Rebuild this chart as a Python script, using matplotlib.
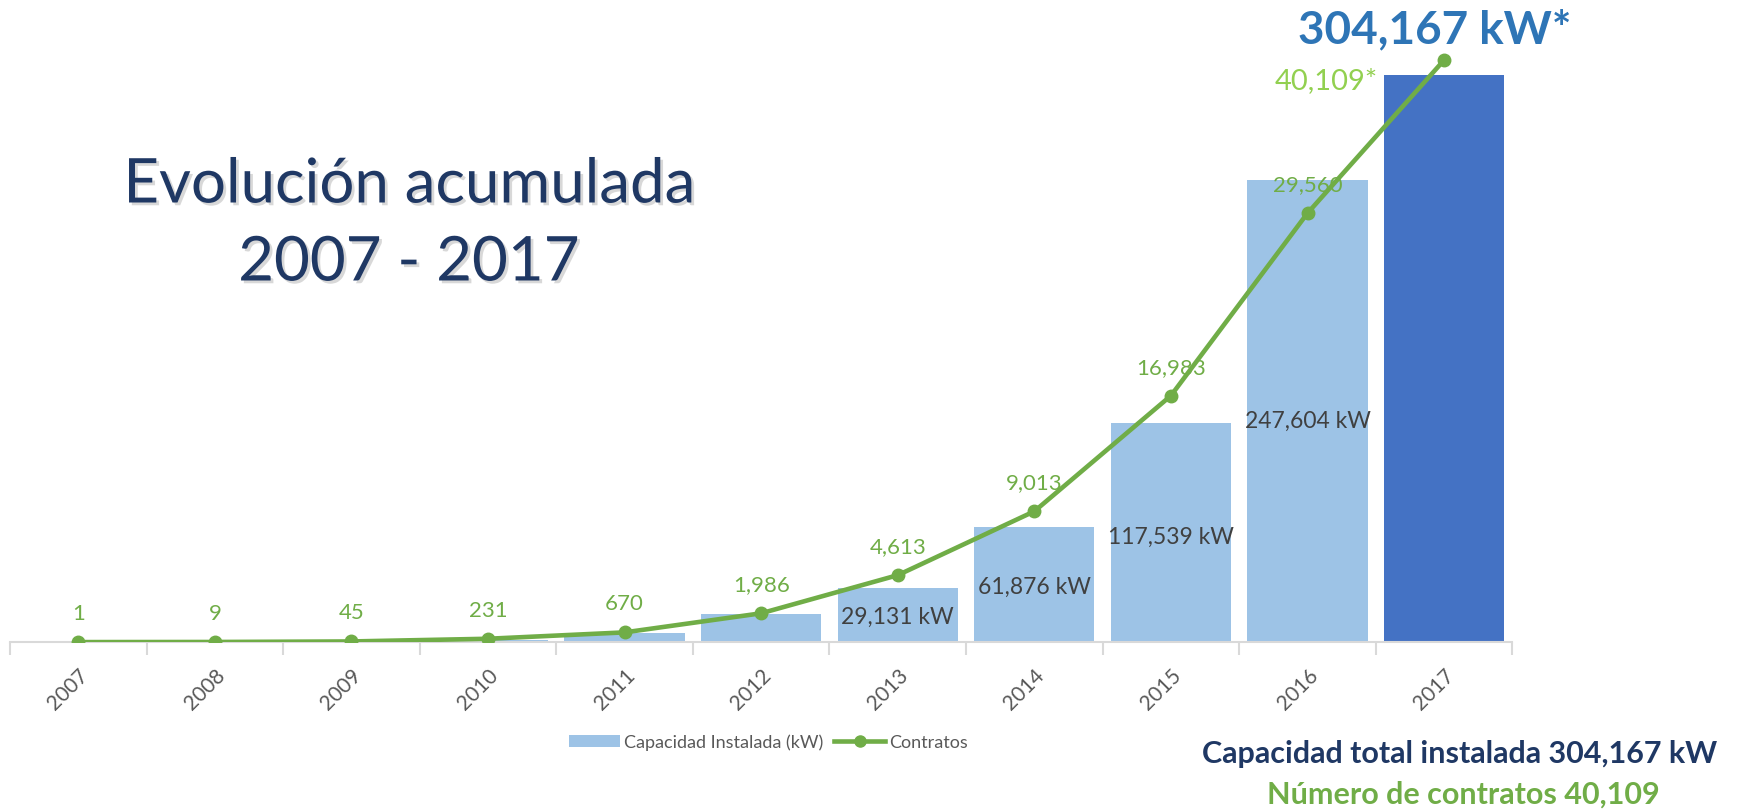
import matplotlib.pyplot as plt
import matplotlib.patheffects as pe
from matplotlib.lines import Line2D
from matplotlib.patches import Patch
import numpy as np

plt.rcParams['font.family'] = ['Lato', 'DejaVu Sans']

years = ['2007', '2008', '2009', '2010', '2011', '2012', '2013', '2014', '2015', '2016', '2017']
capacidad = [5, 40, 200, 1100, 4800, 15000, 29131, 61876, 117539, 247604, 304167]
contratos = [1, 9, 45, 231, 670, 1986, 4613, 9013, 16983, 29560, 40109]
cap_labels = {6: '29,131 kW', 7: '61,876 kW', 8: '117,539 kW', 9: '247,604 kW'}

bar_color = '#9DC3E6'
last_color = '#4472C4'
green = '#70AD47'
navy = '#1F3864'

fig = plt.figure(figsize=(17.47, 8.12), dpi=100)
ax = fig.add_axes([0.0057, 0.208, 0.86, 0.743])
x = np.arange(len(years))
colors = [bar_color] * (len(years) - 1) + [last_color]
ax.bar(x, capacidad, width=0.88, color=colors, zorder=2)
ax.set_ylim(0, 323360)
ax.set_xlim(-0.5, len(years) - 0.5)

for i, txt in cap_labels.items():
    ax.text(x[i], capacidad[i] * 0.48, txt, ha='center', va='center',
            fontsize=16.5, color='#404040', zorder=3)

for s in ['top', 'right', 'left']:
    ax.spines[s].set_visible(False)
ax.spines['bottom'].set_color('#D9D9D9')
ax.spines['bottom'].set_linewidth(1.5)
ax.set_yticks([])
ax.set_xticks(x)
ax.set_xticklabels(years, rotation=45, ha='right', rotation_mode='anchor',
                   fontsize=15, color='#595959')
ax.tick_params(axis='x', which='major', length=0, pad=16)
ax.set_xticks(np.arange(-0.5, len(years)), minor=True)
ax.tick_params(axis='x', which='minor', length=9, width=1.5, color='#D9D9D9')

ax2 = ax.twinx()
ax2.plot(x, contratos, color=green, lw=3.3, marker='o', markersize=9, zorder=4)
ax2.set_ylim(0, 41577)
ax2.set_yticks([])
for s in ax2.spines.values():
    s.set_visible(False)
for i in range(len(years) - 1):
    ax2.annotate(f'{contratos[i]:,}', (x[i], contratos[i]), xytext=(0, 29),
                 textcoords='offset pixels', ha='center', va='center',
                 fontsize=16, color=green)
ax2.annotate(f'{contratos[-1]:,}*', (x[-1], contratos[-1]), xytext=(-118, -20),
             textcoords='offset pixels', ha='center', va='center',
             fontsize=21, color='#92D050')

fig.text(0.8215, 0.963, '304,167 kW*', ha='center', va='center', fontsize=33,
         fontweight='bold', color='#2E75B6')

shadow = [pe.withSimplePatchShadow(offset=(2, -2), shadow_rgbFace='#BFBFBF', alpha=0.6)]
fig.text(0.234, 1 - 186 / 812, 'Evolución acumulada', ha='center', va='center',
         fontsize=44.5, color=navy, path_effects=shadow)
fig.text(0.234, 1 - 264 / 812, '2007 - 2017', ha='center', va='center',
         fontsize=44.5, color=navy, path_effects=shadow)

handles = [Patch(facecolor=bar_color, edgecolor='none'),
           Line2D([0], [0], color=green, lw=3.3, marker='o', markersize=8)]
fig.legend(handles, ['Capacidad Instalada (kW)', 'Contratos'], loc='center',
           bbox_to_anchor=(0.44, 1 - 743 / 812), ncol=2, frameon=False,
           fontsize=13, labelcolor='#595959', handlelength=2.8, columnspacing=0.6,
           handletextpad=0.25)

fig.text(0.8355, 1 - 754 / 812, 'Capacidad total instalada 304,167 kW', ha='center',
         va='center', fontsize=22, fontweight='bold', color=navy)
fig.text(0.8375, 1 - 795 / 812, 'Número de contratos 40,109', ha='center',
         va='center', fontsize=22, fontweight='bold', color=green)

fig.savefig('out.png', dpi=100)
